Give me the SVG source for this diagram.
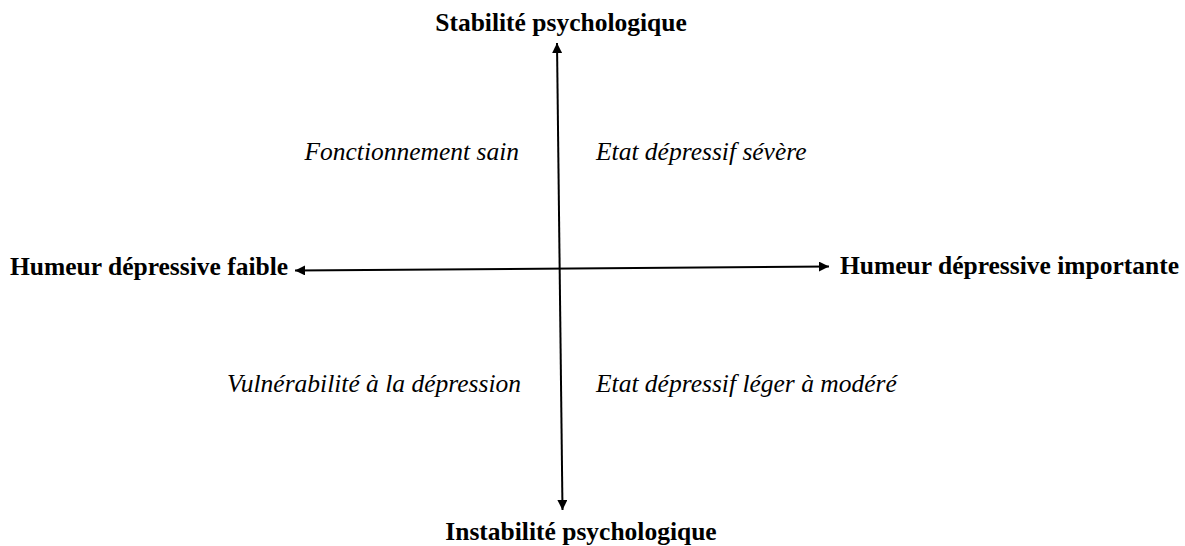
<svg xmlns="http://www.w3.org/2000/svg" width="1185" height="546" viewBox="0 0 1185 546">
<defs>
<marker id="ah" viewBox="0 0 10 10" refX="10" refY="5" markerWidth="10" markerHeight="10" markerUnits="userSpaceOnUse" orient="auto-start-reverse">
<path d="M0,0 L10,5 L0,10 z" fill="#000"/>
</marker>
<style>
.ax{font-family:"Liberation Serif","Times New Roman",serif;font-weight:bold;font-size:25.5px;fill:#000}
.q{font-family:"Liberation Serif","Times New Roman",serif;font-style:italic;font-size:25.5px;fill:#000}
.ln{stroke:#000;stroke-width:2;fill:none}
</style>
</defs>
<rect width="1185" height="546" fill="#fff"/>
<g id="connectors">
<line class="ln" x1="557" y1="43" x2="562.5" y2="510" marker-start="url(#ah)" marker-end="url(#ah)"/>
<line class="ln" x1="295" y1="270.5" x2="829" y2="266.5" marker-start="url(#ah)" marker-end="url(#ah)"/>
</g>
<g id="top"><text class="ax" x="561" y="31" text-anchor="middle">Stabilité psychologique</text></g>
<g id="bottom"><text class="ax" x="581" y="540" text-anchor="middle">Instabilité psychologique</text></g>
<g id="left"><text class="ax" x="10" y="275">Humeur dépressive faible</text></g>
<g id="right"><text class="ax" x="840" y="274">Humeur dépressive importante</text></g>
<g id="q1"><text class="q" x="519" y="160" text-anchor="end">Fonctionnement sain</text></g>
<g id="q2"><text class="q" x="596" y="160">Etat dépressif sévère</text></g>
<g id="q3"><text class="q" x="521" y="392" text-anchor="end">Vulnérabilité à la dépression</text></g>
<g id="q4"><text class="q" x="596" y="392">Etat dépressif léger à modéré</text></g>
</svg>
